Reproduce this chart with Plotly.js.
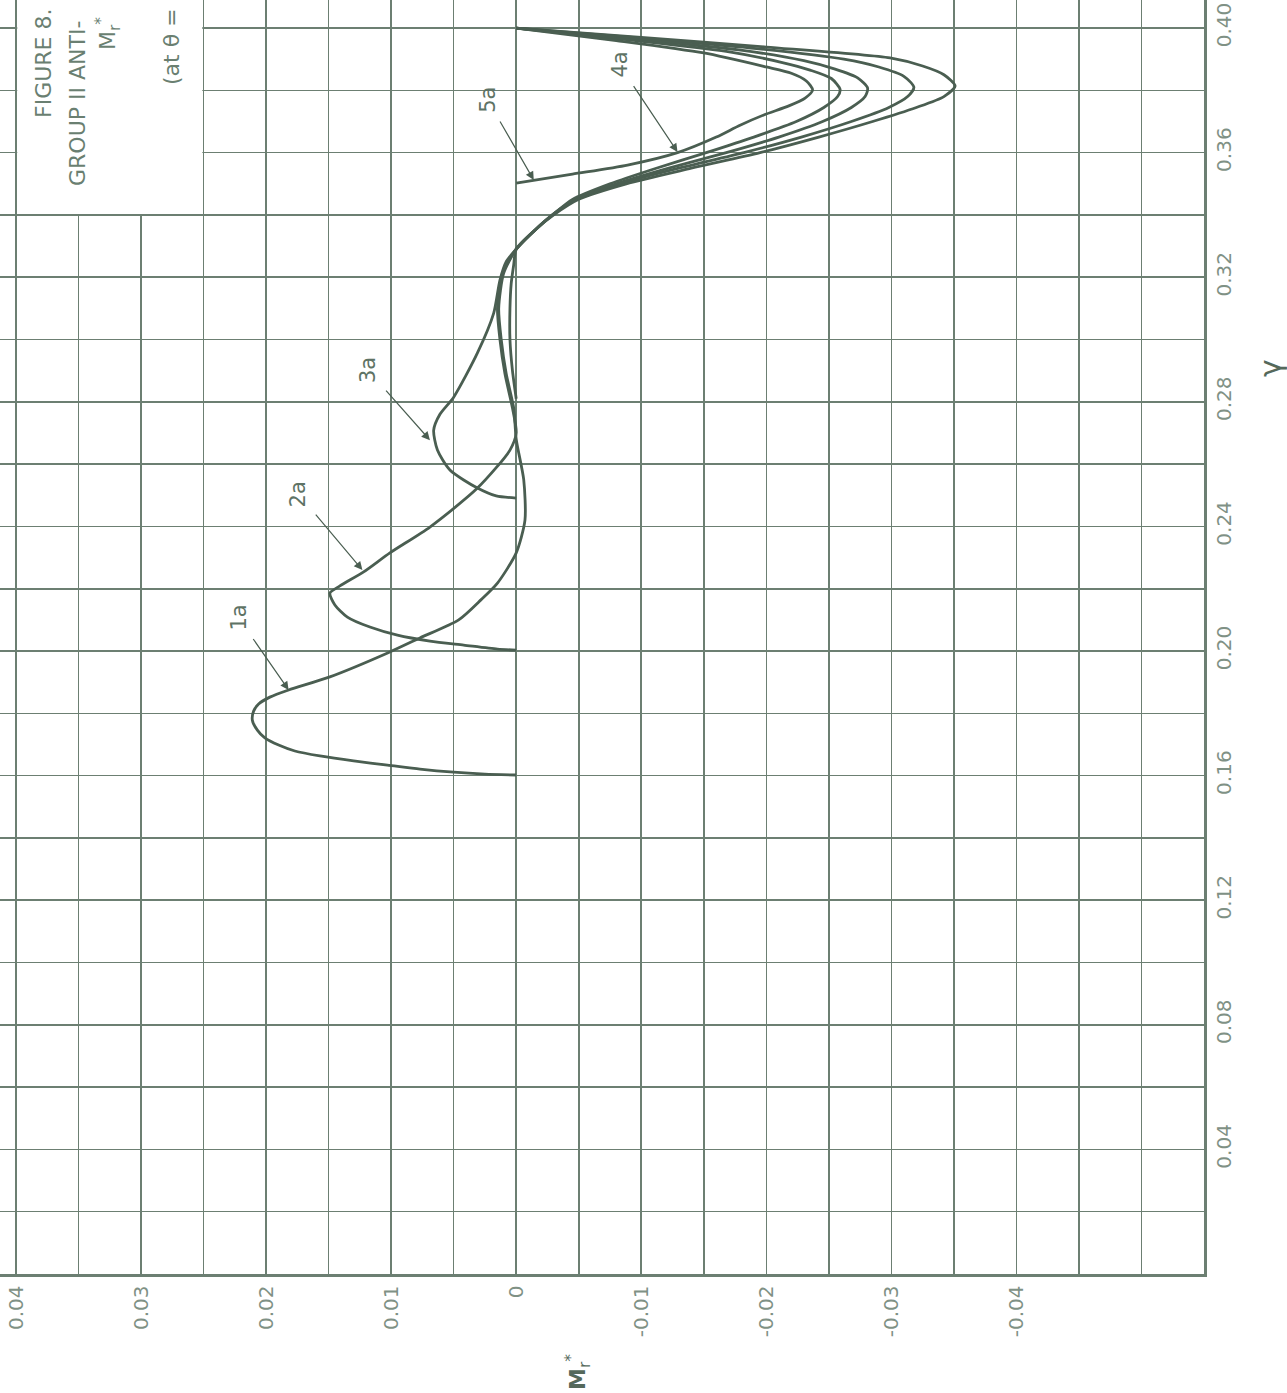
<!DOCTYPE html>
<html>
<head>
<meta charset="utf-8">
<script src="https://cdn.plot.ly/plotly-3.0.1.min.js"></script>
<style>
  html, body { margin: 0; padding: 0; background: #ffffff; }
  #chart { width: 1287px; height: 1393px; }
</style>
</head>
<body>
<div id="chart"></div>
<script>
// ---- axis ticks ----
const mTickVals  = [0.04, 0.03, 0.02, 0.01, 0, -0.01, -0.02, -0.03, -0.04];
const mTickText  = ["0.04", "0.03", "0.02", "0.01", "0", "-0.01", "-0.02", "-0.03", "-0.04"];
const mMinorVals = [0.035, 0.025, 0.015, 0.005, -0.005, -0.015, -0.025, -0.035, -0.045, -0.05];
const gammaTickVals  = [0.04, 0.08, 0.12, 0.16, 0.20, 0.24, 0.28, 0.32, 0.36, 0.40];
const gammaTickText  = ["0.04", "0.08", "0.12", "0.16", "0.20", "0.24", "0.28", "0.32", "0.36", "0.40"];
const gammaMinorVals = [0.02, 0.06, 0.10, 0.14, 0.18, 0.22, 0.26, 0.30, 0.34, 0.38];

// ---- curves (gamma, M_r*) ----
const gamma1a = [0.1602, 0.1605, 0.1611, 0.1621, 0.1634, 0.1647, 0.1663, 0.1679, 0.1698, 0.1721,
                 0.1746, 0.1778, 0.1807, 0.1830, 0.1852, 0.1875, 0.1917, 0.1997, 0.2042, 0.2100,
                 0.2165, 0.2218, 0.2315, 0.2420, 0.2550, 0.2680, 0.2780, 0.2890, 0.3000, 0.3100,
                 0.3213, 0.3290, 0.3355, 0.3400, 0.3450, 0.3500, 0.3550, 0.3600, 0.3650, 0.3700,
                 0.3745, 0.3780, 0.3814, 0.3850, 0.3878, 0.3904, 0.3939, 0.3970, 0.4000];
const m1a =     [0.0000, 0.0025, 0.0050, 0.0077, 0.0103, 0.0130, 0.0157, 0.0177, 0.0190, 0.0201,
                 0.0207, 0.0211, 0.0210, 0.0206, 0.0197, 0.0182, 0.0149, 0.0101, 0.0077, 0.0046,
                 0.0028, 0.0015, 0.0000, -0.0007, -0.0006, 0.0000, 0.0002, 0.0008, 0.0012, 0.0014,
                 0.0010, 0.0000, -0.0016, -0.0030, -0.0050, -0.0088, -0.0140, -0.0195, -0.0242, -0.0285,
                 -0.0320, -0.0342, -0.0351, -0.0342, -0.0325, -0.0299, -0.0200, -0.0100, 0.0000];

const gamma2a = [0.2003, 0.2006, 0.2019, 0.2032, 0.2051, 0.2077, 0.2109, 0.2148, 0.2186, 0.2209,
                 0.2254, 0.2315, 0.2398, 0.2523, 0.2645, 0.2700, 0.2780, 0.2890, 0.3000, 0.3100,
                 0.3213, 0.3290, 0.3355, 0.3400, 0.3450, 0.3500, 0.3550, 0.3600, 0.3650, 0.3700,
                 0.3745, 0.3780, 0.3810, 0.3845, 0.3875, 0.3900, 0.3935, 0.3968, 0.4000];
const m2a =     [0.0000, 0.0015, 0.0042, 0.0069, 0.0095, 0.0117, 0.0135, 0.0145, 0.0149, 0.0141,
                 0.0122, 0.0101, 0.0069, 0.0031, 0.0005, 0.0000, 0.0003, 0.0009, 0.0013, 0.0015,
                 0.0011, 0.0000, -0.0016, -0.0029, -0.0048, -0.0083, -0.0130, -0.0182, -0.0228, -0.0268,
                 -0.0298, -0.0313, -0.0318, -0.0310, -0.0290, -0.0262, -0.0190, -0.0098, 0.0000];

const gamma3a = [0.2491, 0.2498, 0.2523, 0.2581, 0.2645, 0.2709, 0.2760, 0.2815, 0.2957, 0.3085,
                 0.3191, 0.3250, 0.3290, 0.3355, 0.3400, 0.3450, 0.3500, 0.3550, 0.3600, 0.3650,
                 0.3700, 0.3745, 0.3780, 0.3807, 0.3840, 0.3868, 0.3895, 0.3930, 0.3965, 0.4000];
const m3a =     [0.0000, 0.0016, 0.0031, 0.0053, 0.0063, 0.0066, 0.0061, 0.0050, 0.0031, 0.0018,
                 0.0013, 0.0008, 0.0000, -0.0016, -0.0029, -0.0047, -0.0080, -0.0122, -0.0168, -0.0210,
                 -0.0245, -0.0268, -0.0279, -0.0281, -0.0273, -0.0255, -0.0230, -0.0178, -0.0093, 0.0000];

const gamma4a = [0.2810, 0.2900, 0.3000, 0.3100, 0.3180, 0.3240, 0.3290, 0.3355, 0.3400, 0.3450,
                 0.3500, 0.3550, 0.3600, 0.3650, 0.3700, 0.3745, 0.3780, 0.3803, 0.3838, 0.3865,
                 0.3890, 0.3925, 0.3962, 0.4000];
const m4a =     [0.0000, 0.0003, 0.0005, 0.0005, 0.0004, 0.0002, 0.0000, -0.0016, -0.0029, -0.0045,
                 -0.0075, -0.0112, -0.0152, -0.0190, -0.0224, -0.0246, -0.0257, -0.0259, -0.0252, -0.0235,
                 -0.0212, -0.0168, -0.0090, 0.0000];

const gamma5a = [0.3502, 0.3531, 0.3560, 0.3600, 0.3650, 0.3688, 0.3721, 0.3750, 0.3775, 0.3801,
                 0.3830, 0.3855, 0.3875, 0.3920, 0.3960, 0.4000];
const m5a =     [0.0000, -0.0045, -0.0089, -0.0129, -0.0160, -0.0179, -0.0198, -0.0218, -0.0231, -0.0237,
                 -0.0232, -0.0220, -0.0200, -0.0150, -0.0080, 0.0000];

// ---- curve labels: name and the point the arrow touches ----
const labelNames = ["1a", "2a", "3a", "4a", "5a"];
const labelM     = [0.0182, 0.0123, 0.0069, -0.0129, -0.0014];
const labelGamma = [0.1875, 0.2260, 0.2677, 0.3602, 0.3512];

// ---- styling ----
const curveColor = "#4a5e51";
const gridColor  = "#6c7f72";
const tickColor  = "#7f9185";
const fontFam    = "DejaVu Sans, Liberation Sans, sans-serif";

const series = [[m1a, gamma1a], [m2a, gamma2a], [m3a, gamma3a], [m4a, gamma4a], [m5a, gamma5a]];
const traces = series.map(function (s, i) {
  return {
    type: "scatter", mode: "lines", x: s[0], y: s[1],
    name: labelNames[i],
    line: { color: curveColor, width: 2.8, shape: "spline", smoothing: 0.7 },
    hoverinfo: "skip", showlegend: false
  };
});

const labelOffsets = [[-50, -72], [-64, -76], [-62, -70], [-58, -87], [-46, -80]];
const annotations = labelNames.map(function (n, i) {
  return {
    x: labelM[i], y: labelGamma[i], xref: "x", yref: "y",
    text: n, textangle: -90, showarrow: true,
    ax: labelOffsets[i][0], ay: labelOffsets[i][1],
    arrowhead: 2, arrowsize: 1.4, arrowwidth: 1.2, arrowcolor: curveColor,
    standoff: 0, startstandoff: 8,
    font: { family: fontFam, size: 21, color: "#5e7365" }
  };
});

function pxX(px) { return px / 1204; }
function pxY(py) { return (1274 - py) / 1274; }

const textNotes = [
  { t: "FIGURE 8.", x: 44, y: 64, s: 22, c: "#6a7f71" },
  { t: "GROUP II ANTI-", x: 78, y: 104, s: 22, c: "#6a7f71" },
  { t: "M<sub>r</sub><sup>*</sup>", x: 108, y: 34, s: 22, c: "#6a7f71" },
  { t: "(at θ =", x: 171, y: 46, s: 22, c: "#6a7f71" },
  { t: "γ", x: 1270, y: 368, s: 30, c: "#55695b" },
  { t: "<b>M</b><sub>r</sub><sup>*</sup>", x: 578, y: 1372, s: 22, c: "#55695b" }
];
textNotes.forEach(function (a) {
  annotations.push({
    x: pxX(a.x), y: pxY(a.y), xref: "paper", yref: "paper",
    xanchor: "center", yanchor: "middle",
    text: a.t, textangle: -90, showarrow: false,
    font: { family: fontFam, size: a.s, color: a.c }
  });
});

const layout = {
  width: 1287, height: 1393,
  margin: { l: 0, r: 83, t: 0, b: 119, pad: 0 },
  paper_bgcolor: "#ffffff", plot_bgcolor: "#ffffff",
  showlegend: false,
  xaxis: {
    range: [0.04128, -0.055],
    tickmode: "array", tickvals: mTickVals, ticktext: mTickText,
    tickangle: -90, ticks: "", ticklabelstandoff: 1,
    tickfont: { family: fontFam, size: 20, color: tickColor },
    showgrid: true, gridcolor: gridColor, gridwidth: 1.6,
    minor: { tickmode: "array", tickvals: mMinorVals, showgrid: true,
             gridcolor: gridColor, gridwidth: 1.6, ticks: "" },
    zeroline: false, showline: true, linecolor: gridColor, linewidth: 2.5,
    fixedrange: true
  },
  yaxis: {
    range: [0, 0.409], side: "right",
    tickmode: "array", tickvals: gammaTickVals, ticktext: gammaTickText,
    tickangle: -90, ticks: "", ticklabelstandoff: 0,
    tickfont: { family: fontFam, size: 20, color: tickColor },
    showgrid: true, gridcolor: gridColor, gridwidth: 1.6,
    minor: { tickmode: "array", tickvals: gammaMinorVals, showgrid: true,
             gridcolor: gridColor, gridwidth: 1.6, ticks: "" },
    zeroline: false, showline: true, linecolor: gridColor, linewidth: 2.5,
    fixedrange: true
  },
  shapes: [
    { type: "rect", xref: "x", yref: "y", x0: 0.0399, x1: 0.0251, y0: 0.3403, y1: 0.43,
      fillcolor: "#ffffff", line: { width: 0 }, layer: "above" }
  ],
  annotations: annotations
};

Plotly.newPlot("chart", traces, layout, { staticPlot: true, displayModeBar: false });
</script>
</body>
</html>
